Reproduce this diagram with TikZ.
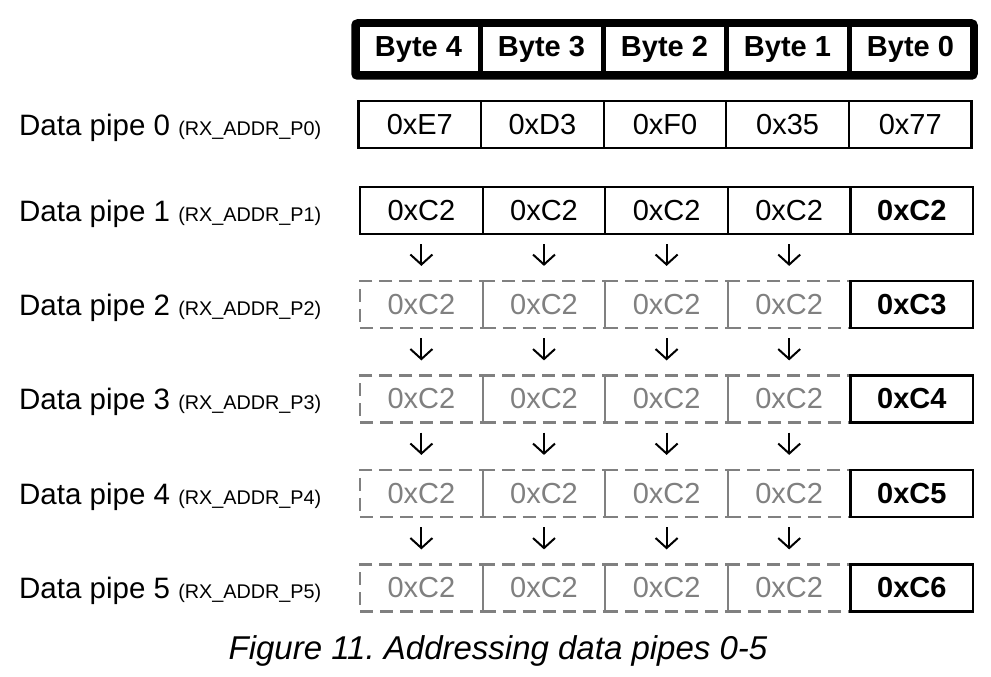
\documentclass[tikz,border=0pt]{standalone}
\usepackage{fontspec}
\setmainfont{Liberation Sans}
\usetikzlibrary{arrows.meta}

\newcommand\regname[1]{{\fontsize{19.8}{24}\selectfont(#1)}}

\begin{document}
\begin{tikzpicture}[x=1pt, y=-1pt,
  cell/.style={draw, line width=2.2pt, minimum width=122.6pt, minimum height=47pt, inner sep=0pt, font=\fontsize{29}{33}\selectfont},
  boldcell/.style={cell, font=\fontsize{29}{33}\selectfont\bfseries},
  hdrcell/.style={cell, line width=5pt, minimum width=123pt, minimum height=49pt, font=\fontsize{29}{33}\selectfont\bfseries},
  ghost/.style={cell, draw=gray, text=gray, dash pattern=on 13pt off 7pt},
  pipelbl/.style={anchor=base west, inner sep=0pt, font=\fontsize{29.5}{33}\selectfont},
  pass/.style={-{Straight Barb[length=10pt,width=22pt]}, line width=2pt, shorten <=9pt, shorten >=14pt}]
\useasboundingbox (0,0) rectangle (991,677);

% header
\foreach \b [count=\i from 0] in {4,3,2,1,0}
  \node[hdrcell] (byte\b) at (418.5+123*\i, 49.5) {Byte \b};
\path[draw, line width=6.5pt, rounded corners=3pt] (byte4.north west) rectangle (byte0.south east);

% pipe 0
\node[pipelbl] (lbl0) at (19,135) {Data pipe 0 \regname{RX\_ADDR\_P0}};
\foreach \v [count=\i from 0] in {E7,D3,F0,35,77}
  \node[cell] (pipe0-\i) at (419.8+122.6*\i, 124.5) {0x\v};

% pipe 1
\node[pipelbl] (lbl1) at (19,221) {Data pipe 1 \regname{RX\_ADDR\_P1}};
\foreach \i in {0,...,3}
  \node[cell] (pipe1-\i) at (421.4+122.6*\i, 210.5) {0xC2};
\node[boldcell] (pipe1-4) at (421.4+122.6*4, 210.5) {0xC2};

% pipes 2-5
\foreach \r/\y/\v in {2/304.5/C3, 3/399/C4, 4/493.5/C5, 5/588/C6}{
  \node[pipelbl] (lbl\r) at (19,\y+10.5) {Data pipe \r\ \regname{RX\_ADDR\_P\r}};
  \foreach \i in {0,...,3}
    \node[ghost] (pipe\r-\i) at (421.4+122.6*\i, \y) {0xC2};
  \node[boldcell] (pipe\r-4) at (421.4+122.6*4, \y) {0x\v};
}

% arrows
\foreach \r [count=\n from 2] in {1,...,4}
  \foreach \i in {0,...,3}
    \draw[pass] (pipe\r-\i) -- (pipe\n-\i);

\node[font=\fontsize{33}{37}\selectfont\itshape] (caption) at (498,651) {Figure 11.\ Addressing data pipes 0-5};
\end{tikzpicture}
\end{document}
